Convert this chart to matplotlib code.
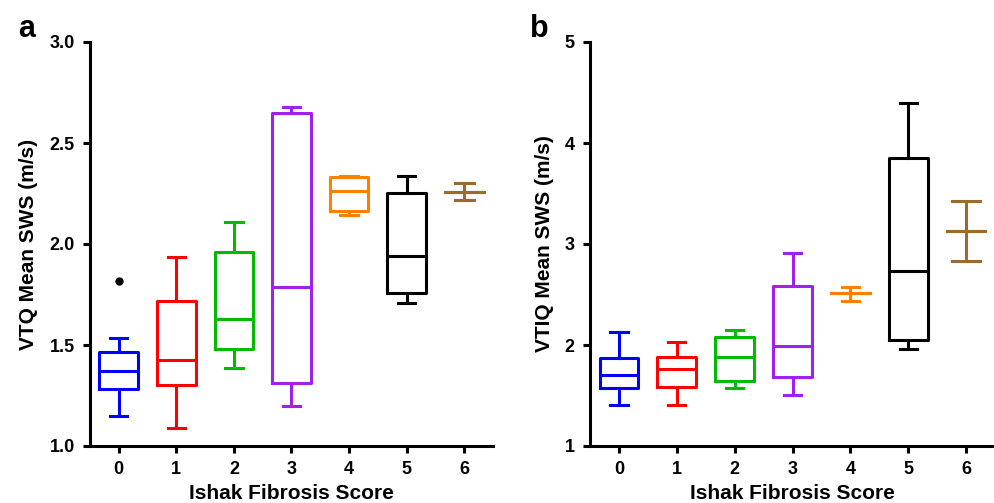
import matplotlib
matplotlib.use("Agg")
import matplotlib.pyplot as plt

plt.rcParams['font.family'] = ['Liberation Sans', 'DejaVu Sans']
plt.rcParams['font.weight'] = 'bold'

scores = [0, 1, 2, 3, 4, 5, 6]
tick_labels = ['0', '1', '2', '3', '4', '5', '6']
colors = ['#0000FF', '#FF0000', '#00BB00', '#A020F0', '#FF8000', '#000000', '#9C6A2A']

# Panel a: VTQ
vtq_low = [1.147, 1.089, 1.386, 1.197, 2.145, 1.710, 2.217]
vtq_q1 = [1.281, 1.302, 1.481, 1.310, 2.164, 1.756, 2.258]
vtq_med = [1.373, 1.424, 1.628, 1.789, 2.263, 1.943, 2.258]
vtq_q3 = [1.464, 1.718, 1.958, 2.648, 2.334, 2.252, 2.258]
vtq_high = [1.537, 1.938, 2.107, 2.678, 2.339, 2.339, 2.300]
vtq_outliers = [[1.817], [], [], [], [], [], []]

# Panel b: VTIQ
vtiq_low = [1.403, 1.403, 1.578, 1.505, 2.437, 1.964, 2.827]
vtiq_q1 = [1.578, 1.588, 1.647, 1.684, 2.510, 2.050, 3.127]
vtiq_med = [1.700, 1.766, 1.885, 1.994, 2.510, 2.737, 3.127]
vtiq_q3 = [1.869, 1.882, 2.083, 2.589, 2.510, 3.854, 3.127]
vtiq_high = [2.133, 2.027, 2.146, 2.906, 2.579, 4.396, 3.424]
vtiq_outliers = [[], [], [], [], [], [], []]

capw_a = [0.3, 0.3, 0.3, 0.3, 0.3, 0.3, 0.33]
capw_b = [0.3, 0.3, 0.3, 0.3, 0.3, 0.3, 0.48]

W, H = 995, 503
fig = plt.figure(figsize=(W / 100, H / 100), dpi=100)


def add_ax(left, right, top, bottom):
    return fig.add_axes([left / W, 1 - bottom / H, (right - left) / W, (bottom - top) / H])


def draw(ax, low, q1, med, q3, high, outl, capw, ylim, yticks, ytl, ylabel):
    lw = 2.2
    for i, x in enumerate(scores):
        st = [dict(med=med[i], q1=q1[i], q3=q3[i], whislo=low[i], whishi=high[i], fliers=outl[i])]
        c = colors[i]
        ax.bxp(st, positions=[x], widths=0.67, showfliers=True,
               boxprops=dict(color=c, linewidth=lw),
               medianprops=dict(color=c, linewidth=lw),
               whiskerprops=dict(color=c, linewidth=lw),
               capprops=dict(color=c, linewidth=lw),
               flierprops=dict(marker='o', markerfacecolor='black', markeredgecolor='black', markersize=5),
               capwidths=capw[i], manage_ticks=False)
    ax.set_xlim(-0.5, 6.5)
    ax.set_ylim(*ylim)
    ax.set_xticks(scores)
    ax.set_xticklabels(tick_labels)
    ax.set_yticks(yticks)
    ax.set_yticklabels(ytl)
    for s in ['top', 'right']:
        ax.spines[s].set_visible(False)
    for s in ['left', 'bottom']:
        ax.spines[s].set_linewidth(2.2)
    ax.tick_params(width=2.2, length=5, labelsize=13, pad=6)
    for lab in ax.get_xticklabels() + ax.get_yticklabels():
        lab.set_fontweight('bold')
    ax.set_xlabel('Ishak Fibrosis Score', fontsize=15, fontweight='bold', labelpad=4)
    ax.set_ylabel(ylabel, fontsize=15, fontweight='bold', labelpad=8)
    ax.patch.set_alpha(0)


ax1 = add_ax(90, 493, 42, 446)
draw(ax1, vtq_low, vtq_q1, vtq_med, vtq_q3, vtq_high, vtq_outliers, capw_a,
     (1.0, 3.0), [1.0, 1.5, 2.0, 2.5, 3.0], ['1.0', '1.5', '2.0', '2.5', '3.0'],
     'VTQ Mean SWS (m/s)')

ax2 = add_ax(590, 995, 42, 446)
draw(ax2, vtiq_low, vtiq_q1, vtiq_med, vtiq_q3, vtiq_high, vtiq_outliers, capw_b,
     (1, 5), [1, 2, 3, 4, 5], ['1', '2', '3', '4', '5'],
     'VTIQ Mean SWS (m/s)')

fig.text(18 / W, 1 - 37 / H, 'a', fontsize=22, fontweight='bold')
fig.text(530 / W, 1 - 37 / H, 'b', fontsize=22, fontweight='bold')

fig.savefig('out.png', dpi=100)
